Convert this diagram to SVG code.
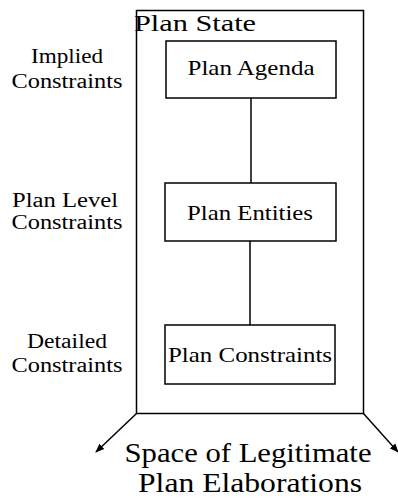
<svg xmlns="http://www.w3.org/2000/svg" width="398" height="504" viewBox="0 0 398 504">
<defs>
<style>
text{font-family:"Liberation Serif","DejaVu Serif",serif;fill:#000;text-anchor:middle}
.box{fill:#fff;stroke:#000;stroke-width:1.5}
.ln{stroke:#000;stroke-width:1.5;fill:none}
.lab{font-size:20px}
.nd{font-size:22px}
.big{font-size:28px}
</style>
<marker id="ah" viewBox="0 0 10 10" refX="9" refY="5" markerWidth="9" markerHeight="9" markerUnits="userSpaceOnUse" orient="auto">
<path d="M0,1 L10,5 L0,9 Z" fill="#000"/>
</marker>
</defs>
<g id="plan-state">
<rect class="box" x="136.5" y="10.5" width="227" height="403" style="fill:none"/>
<text x="195" y="31" style="font-size:23px" textLength="122" lengthAdjust="spacingAndGlyphs">Plan State</text>
</g>
<g id="connectors">
<line class="ln" x1="251" y1="98" x2="251" y2="183"/>
<line class="ln" x1="250" y1="241" x2="250" y2="325"/>
<line class="ln" x1="136.5" y1="413.5" x2="96" y2="452" marker-end="url(#ah)"/>
<line class="ln" x1="363.5" y1="413.5" x2="398" y2="452" marker-end="url(#ah)"/>
</g>
<g id="plan-agenda">
<rect class="box" x="166" y="41" width="170" height="57"/>
<text class="nd" x="251" y="75" textLength="127" lengthAdjust="spacingAndGlyphs">Plan Agenda</text>
</g>
<g id="plan-entities">
<rect class="box" x="165" y="183" width="171" height="58"/>
<text class="nd" x="250" y="220" textLength="126" lengthAdjust="spacingAndGlyphs">Plan Entities</text>
</g>
<g id="plan-constraints">
<rect class="box" x="165" y="325" width="170" height="59"/>
<text class="nd" x="250" y="362" textLength="164" lengthAdjust="spacingAndGlyphs">Plan Constraints</text>
</g>
<g id="implied-constraints">
<text class="lab" x="67" y="63" textLength="72" lengthAdjust="spacingAndGlyphs">Implied</text>
<text class="lab" x="67" y="88" textLength="111" lengthAdjust="spacingAndGlyphs">Constraints</text>
</g>
<g id="plan-level-constraints">
<text class="lab" x="65" y="207" textLength="106" lengthAdjust="spacingAndGlyphs">Plan Level</text>
<text class="lab" x="67" y="229" textLength="111" lengthAdjust="spacingAndGlyphs">Constraints</text>
</g>
<g id="detailed-constraints">
<text class="lab" x="67" y="348" textLength="80" lengthAdjust="spacingAndGlyphs">Detailed</text>
<text class="lab" x="67" y="372" textLength="111" lengthAdjust="spacingAndGlyphs">Constraints</text>
</g>
<g id="space-label">
<text class="big" x="248" y="462" textLength="247" lengthAdjust="spacingAndGlyphs">Space of Legitimate</text>
<text class="big" x="250" y="492" textLength="224" lengthAdjust="spacingAndGlyphs">Plan Elaborations</text>
</g>
</svg>
